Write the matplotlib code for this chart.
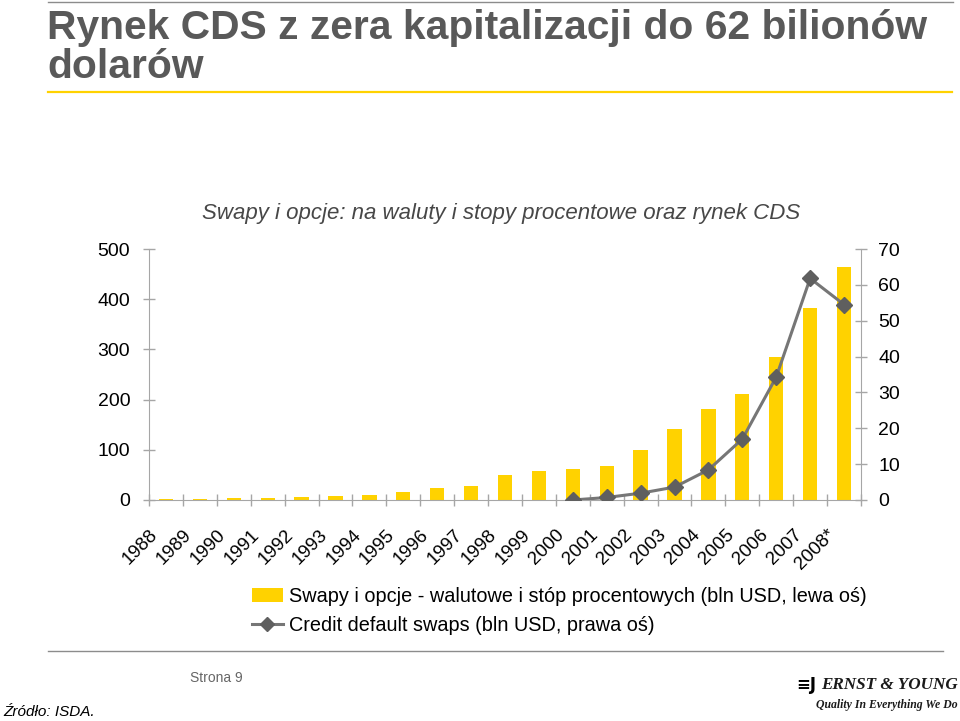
import matplotlib

matplotlib.use("Agg")
import matplotlib.pyplot as plt
import numpy as np
from matplotlib.lines import Line2D
from matplotlib.patches import Patch
from matplotlib.transforms import ScaledTranslation

plt.rcParams.update({"font.family": "Liberation Sans"})

years = ["1988", "1989", "1990", "1991", "1992", "1993", "1994", "1995", "1996", "1997", "1998",
         "1999", "2000", "2001", "2002", "2003", "2004", "2005", "2006", "2007", "2008*"]
swaps = [1.3, 1.5, 3.5, 3.5, 5.3, 7.4, 9.5, 15.3, 24.6, 28.5, 49.0,
         57.8, 61.8, 67.7, 99.6, 141.0, 181.0, 211.0, 285.0, 382.0, 464.0]
cds_years = ["2000", "2001", "2002", "2003", "2004", "2005", "2006", "2007", "2008*"]
cds = [0.0, 0.7, 1.9, 3.6, 8.4, 17.0, 34.3, 61.8, 54.5]

YEL = "#FFD200"
GRID = "#a6a6a6"
LINE = "#767676"
MARK = "#5f5f5f"

W, H = 960, 721
fig = plt.figure(figsize=(W / 100, H / 100), dpi=100)


def fx(x):
    return x / W


def fy(y):
    return 1 - y / H


# decorative slide lines
fig.add_artist(Line2D([fx(48), fx(953)], [fy(2), fy(2)], color="#8c8c8c", lw=1))
fig.add_artist(Line2D([fx(48), fx(952)], [fy(92), fy(92)], color="#FFD200", lw=1.6))
fig.add_artist(Line2D([fx(48), fx(943)], [fy(651), fy(651)], color="#8c8c8c", lw=1))

fig.text(fx(47), fy(9), "Rynek CDS z zera kapitalizacji do 62 bilionów\ndolarów", ha="left", va="top",
         fontsize=29.3, fontweight="bold", color="#595959", linespacing=1.05)
fig.text(fx(501), fy(214), "Swapy i opcje: na waluty i stopy procentowe oraz rynek CDS", ha="center",
         va="center", fontsize=16, style="italic", color="#474747")

ax = fig.add_axes([fx(149), fy(500), fx(861) - fx(149), fy(249) - fy(500)])
x = np.arange(len(years))
ax.bar(x, swaps, width=0.42, color=YEL, zorder=2)
ax.set_xlim(-0.5, len(years) - 0.5)
ax.set_ylim(0, 500)
ax.set_yticks(np.arange(0, 501, 100))
ax.set_xticks(x)
ax.set_xticklabels(years, rotation=45, ha="right", va="top", rotation_mode="anchor")
ax.set_xticks(np.arange(-0.5, len(years), 1), minor=True)
ax.tick_params(axis="x", which="major", length=0, pad=16, labelsize=13.5)
ax.tick_params(axis="x", which="minor", direction="inout", length=9, color=GRID, width=1)
ax.tick_params(axis="y", direction="inout", length=9, color=GRID, width=1, labelsize=14, pad=9)
for lab in ax.get_xticklabels():
    lab.set_transform(lab.get_transform() + ScaledTranslation(-0.17, -0.04, fig.dpi_scale_trans))
for s in ["top", "right"]:
    ax.spines[s].set_visible(False)
for s in ["left", "bottom"]:
    ax.spines[s].set_color(GRID)

ax2 = ax.twinx()
cx = [years.index(y) for y in cds_years]
ax2.plot(cx, cds, color=LINE, lw=2.2, marker="D", ms=8, mfc=MARK, mec=MARK, zorder=3)
ax2.set_ylim(0, 70)
ax2.set_yticks(np.arange(0, 71, 10))
ax2.tick_params(axis="y", direction="inout", length=9, color=GRID, width=1, labelsize=14, pad=8)
for s in ["top", "left", "bottom"]:
    ax2.spines[s].set_visible(False)
ax2.spines["right"].set_color(GRID)

handles = [
    Patch(facecolor=YEL, edgecolor="none"),
    Line2D([0], [0], color=LINE, lw=2.2, marker="D", ms=7, mfc=MARK, mec=MARK),
]
labels = [
    "Swapy i opcje - walutowe i stóp procentowych (bln USD, lewa oś)",
    "Credit default swaps (bln USD, prawa oś)",
]
fig.legend(handles, labels, loc="upper left", bbox_to_anchor=(fx(252), fy(587)), frameon=False,
           fontsize=14.3, handlelength=1.55, handletextpad=0.3, labelspacing=0.5, borderpad=0,
           borderaxespad=0)

fig.text(fx(190), fy(678), "Strona 9", ha="left", va="center", fontsize=10, color="#666666")
fig.text(fx(3), fy(712), "Źródło: ISDA.", ha="left", va="center", fontsize=11, style="italic",
         color="black")

# Ernst & Young logo (text approximation)
fig.text(fx(796), fy(685), "≡J", ha="left", va="center", fontsize=12, fontweight="bold",
         family="DejaVu Sans", color="black")
fig.text(fx(958), fy(685), "ERNST & YOUNG", ha="right", va="center", fontsize=12.3,
         fontweight="bold", style="italic", family="Liberation Serif", color="#1a1a1a")
fig.text(fx(958), fy(705), "Quality In Everything We Do", ha="right", va="center", fontsize=8.5,
         fontweight="bold", style="italic", family="Liberation Serif", color="#1a1a1a")

fig.savefig("out.png", dpi=100)
